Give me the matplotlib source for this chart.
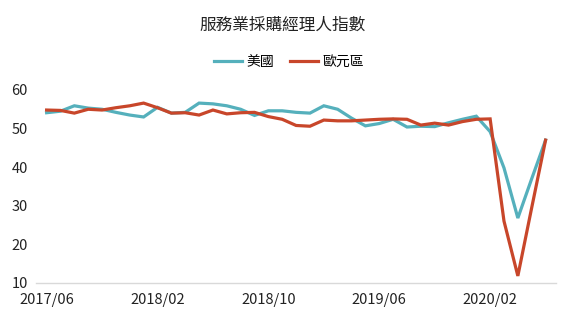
import numpy as np
import pandas as pd
from matplotlib import pyplot as plt

plt.rcParams['font.family'] = ['Noto Sans CJK TC', 'DejaVu Sans']

# monthly services PMI, 2017/06 - 2020/06
months = pd.date_range('2017-06-01', '2020-06-01', freq='MS').strftime('%Y/%m').tolist()

us = [54.1, 54.5, 55.9, 55.3, 55.0, 54.2, 53.5, 53.0, 55.5, 54.0, 54.2, 56.6,
      56.4, 55.9, 55.0, 53.4, 54.6, 54.6, 54.2, 54.0, 55.9, 55.0, 52.7, 50.7,
      51.3, 52.4, 50.4, 50.6, 50.5, 51.5, 52.4, 53.2, 49.2, 39.8, 26.8, 37.0, 47.0]

euro = [54.8, 54.7, 54.0, 55.0, 54.8, 55.4, 55.9, 56.6, 55.4, 54.0, 54.1, 53.5,
        54.8, 53.8, 54.1, 54.2, 53.1, 52.4, 50.8, 50.6, 52.2, 52.0, 52.0, 52.2,
        52.4, 52.5, 52.4, 50.9, 51.4, 50.9, 51.8, 52.4, 52.5, 26.0, 11.8, 29.5, 47.0]

x = np.arange(len(months))

fig = plt.figure(figsize=(5.84, 3.32), dpi=100)
ax = fig.add_axes([0.062, 0.148, 0.89, 0.581])

ax.plot(x, us, color='#55b0bc', lw=2.3, label='美國', solid_joinstyle='miter')
ax.plot(x, euro, color='#c8462a', lw=2.3, label='歐元區', solid_joinstyle='miter')

ax.set_xlim(-0.75, len(months) - 0.25)
ax.set_ylim(10, 60)
ax.set_yticks([10, 20, 30, 40, 50, 60])
ax.set_xticks(x[::8])
ax.set_xticklabels(months[::8])

for s in ['top', 'right', 'left']:
    ax.spines[s].set_visible(False)
ax.spines['bottom'].set_color('#d9d9d9')
ax.spines['bottom'].set_linewidth(1)
ax.tick_params(axis='both', length=0, labelsize=10.5, colors='#222222')
ax.tick_params(axis='x', pad=7)
ax.tick_params(axis='y', pad=6)

fig.text(0.484, 0.925, '服務業採購經理人指數', ha='center', va='center',
         fontsize=12, fontweight='medium', color='#222222')
fig.legend(loc='center', bbox_to_anchor=(0.495, 0.813), ncol=2, frameon=False,
           fontsize=10, handlelength=2.0, columnspacing=1.2, handletextpad=0.3)

fig.savefig('out.png', dpi=100)
